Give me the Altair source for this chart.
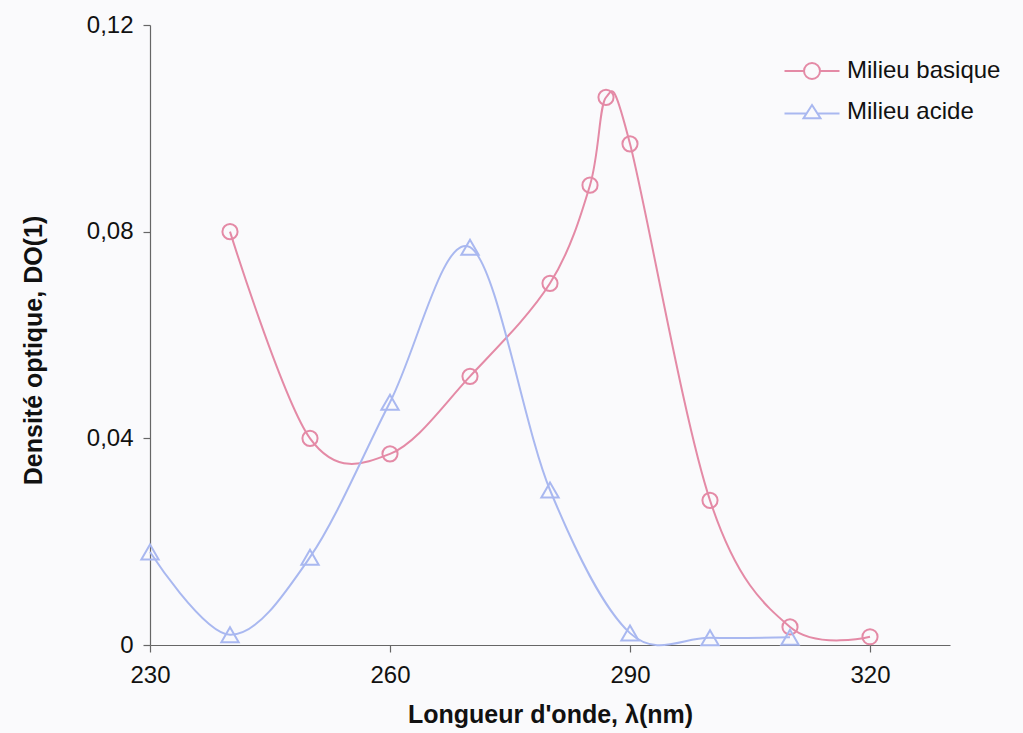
import altair as alt
import pandas as pd

# ---- data ----
series_names = ["Milieu basique", "Milieu acide"]
series_colors = ["#e48aa6", "#a9b8f0"]

wl_basique = [240, 250, 260, 270, 280, 285, 287, 290, 300, 310, 320]
do_basique = [0.080, 0.040, 0.037, 0.052, 0.070, 0.089, 0.106, 0.097, 0.028, 0.0035, 0.0016]

wl_acide = [230, 240, 250, 260, 270, 280, 290, 300, 310]
do_acide = [0.018, 0.002, 0.017, 0.047, 0.077, 0.030, 0.0023, 0.0014, 0.0015]

x_ticks = [230, 260, 290, 320]
y_ticks = [0, 0.04, 0.08, 0.12]

df = pd.DataFrame({
    "lambda": wl_basique + wl_acide,
    "do": do_basique + do_acide,
    "serie": [series_names[0]] * len(wl_basique) + [series_names[1]] * len(wl_acide),
})

FONT = "Liberation Sans"

x_enc = alt.X(
    "lambda:Q",
    scale=alt.Scale(domain=[230, 330], nice=False, zero=False),
    axis=alt.Axis(
        values=x_ticks, title="Longueur d'onde, λ(nm)", labelPadding=11,
        titlePadding=15, grid=False, labelFlush=False,
    ),
)
y_enc = alt.Y(
    "do:Q",
    scale=alt.Scale(domain=[0, 0.12], nice=False),
    axis=alt.Axis(
        values=y_ticks, title="Densité optique, DO(1)", grid=False,
        labelExpr="datum.value == 0 ? '0' : replace(format(datum.value, '.2f'), '.', ',')",
        labelPadding=10, titlePadding=40, titleY=325, labelFlush=False,
    ),
)

color_nolegend = alt.Color("serie:N", scale=alt.Scale(domain=series_names, range=series_colors), legend=None)

base = alt.Chart(df)

lines = base.mark_line(interpolate="cardinal", strokeWidth=2).encode(
    x=x_enc, y=y_enc, color=color_nolegend, detail="serie:N"
)

pts_basique = base.transform_filter(alt.datum.serie == series_names[0]).mark_point(
    shape="circle", filled=False, strokeWidth=2, size=230, opacity=1
).encode(x=x_enc, y=y_enc, color=color_nolegend)

pts_acide = base.transform_filter(alt.datum.serie == series_names[1]).mark_point(
    shape="triangle-up", filled=False, strokeWidth=2, size=300, opacity=1
).encode(x=x_enc, y=y_enc, color=color_nolegend)

# legend-only layer: symbols made of a short line with the marker
path_circle = ("M-2.75,0H-0.8M0.8,0H2.75"
               "M-0.8,0A0.8,0.8 0 1,1 0.8,0A0.8,0.8 0 1,1 -0.8,0")
path_tri = "M-2.75,0.15H-0.5M0.5,0.15H2.75M0,-0.7L0.85,0.62L-0.85,0.62Z"

leg = alt.Legend(
    title=None, orient="none", legendX=650, legendY=34,
    symbolSize=400, symbolStrokeWidth=2, labelOffset=23,
    labelFont=FONT, labelFontSize=24, labelColor="#111111",
    rowPadding=17, padding=0,
)
legend_layer = base.transform_filter("false").mark_point(
    filled=False, strokeWidth=2, size=400, opacity=1
).encode(
    color=alt.Color("serie:N", scale=alt.Scale(domain=series_names, range=series_colors), legend=leg),
    shape=alt.Shape("serie:N", scale=alt.Scale(domain=series_names, range=[path_circle, path_tri]), legend=leg),
)

chart = alt.layer(lines, pts_basique, pts_acide, legend_layer).resolve_scale(
    color="independent", shape="independent"
).properties(
    width=800, height=620,
    autosize=alt.AutoSizeParams(type="none"),
    padding={"left": 150, "top": 25, "right": 73, "bottom": 88},
    background="#fafafc",
).configure_view(stroke=None).configure_axis(
    domainColor="#666666", tickColor="#666666", domainWidth=1.2, tickWidth=1.2,
    tickSize=7, labelFont=FONT, labelFontSize=24, labelColor="#111111",
    titleFont=FONT, titleFontSize=25, titleFontWeight="bold", titleColor="#111111",
)

chart.save("out.html", embed_options={"renderer": "svg", "actions": False})
